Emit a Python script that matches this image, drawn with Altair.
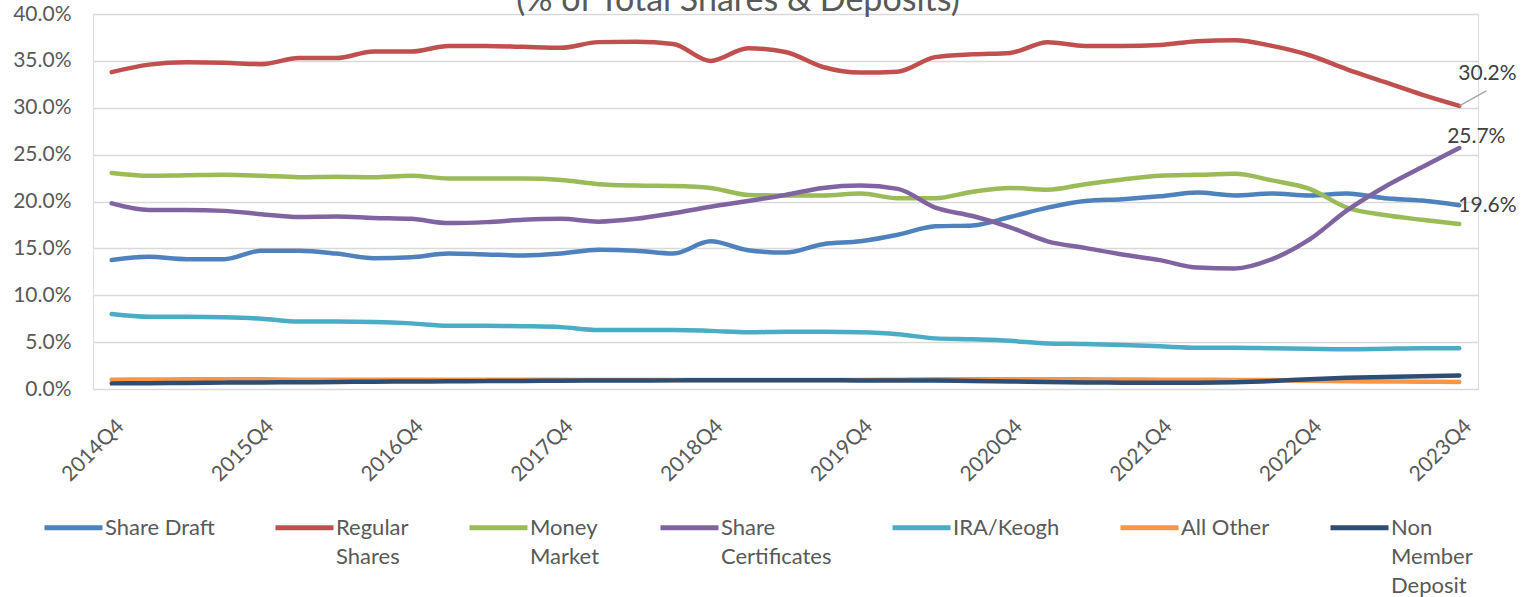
import altair as alt
import pandas as pd

quarters = ["2014Q4"] + [f"{y}Q{q}" for y in range(2015, 2024) for q in range(1, 5)]
tick_labels = ["2014Q4", "2015Q4", "2016Q4", "2017Q4", "2018Q4", "2019Q4",
               "2020Q4", "2021Q4", "2022Q4", "2023Q4"]
title_text = ["(% of Total Shares & Deposits)"]

series_names = ["Share Draft", "Regular Shares", "Money Market", "Share Certificates",
                "IRA/Keogh", "All Other", "Non Member Deposit"]
series_colors = ["#4F81BD", "#C0504D", "#9BBB59", "#8064A2", "#4BACC6", "#F79646", "#2C4D75"]

share_draft = [13.75, 14.1, 13.85, 13.85, 14.75, 14.75, 14.45, 13.95, 14.05, 14.45, 14.35, 14.25,
               14.45, 14.85, 14.75, 14.45, 15.75, 14.8, 14.55, 15.45, 15.75, 16.45, 17.35, 17.45,
               18.35, 19.35, 20.05, 20.25, 20.55, 20.95, 20.65, 20.85, 20.65, 20.85, 20.35, 20.1, 19.6]
regular_shares = [33.8, 34.6, 34.85, 34.8, 34.65, 35.3, 35.3, 36.0, 36.0, 36.6, 36.6, 36.5,
                  36.4, 37.0, 37.05, 36.8, 35.0, 36.35, 35.95, 34.35, 33.75, 33.85, 35.4, 35.7,
                  35.85, 37.0, 36.6, 36.6, 36.7, 37.1, 37.2, 36.6, 35.6, 34.1, 32.75, 31.4, 30.2]
money_market = [23.05, 22.75, 22.8, 22.85, 22.75, 22.6, 22.65, 22.6, 22.75, 22.45, 22.45, 22.45,
                22.3, 21.85, 21.7, 21.65, 21.45, 20.7, 20.65, 20.65, 20.85, 20.35, 20.35, 21.05,
                21.45, 21.25, 21.85, 22.35, 22.75, 22.85, 22.95, 22.25, 21.35, 19.35, 18.55, 18.05, 17.6]
share_certificates = [19.8, 19.1, 19.1, 19.0, 18.65, 18.35, 18.4, 18.25, 18.15, 17.7, 17.8, 18.05,
                      18.15, 17.85, 18.15, 18.75, 19.45, 20.05, 20.7, 21.45, 21.7, 21.35, 19.35, 18.45,
                      17.25, 15.75, 15.05, 14.35, 13.75, 12.95, 12.85, 13.85, 15.95, 19.05, 21.55, 23.65, 25.7]
ira_keogh = [8.0, 7.7, 7.7, 7.65, 7.5, 7.2, 7.2, 7.15, 7.0, 6.75, 6.75, 6.7,
             6.6, 6.3, 6.3, 6.3, 6.2, 6.05, 6.1, 6.1, 6.05, 5.85, 5.4, 5.3,
             5.15, 4.85, 4.8, 4.7, 4.55, 4.4, 4.4, 4.35, 4.3, 4.25, 4.3, 4.35, 4.35]
all_other = [1.0, 1.02, 1.03, 1.04, 1.03, 1.0, 1.0, 1.0, 1.0, 1.0, 1.0, 1.0,
             0.98, 0.97, 0.97, 0.97, 0.95, 0.95, 0.95, 0.95, 0.97, 1.0, 1.05, 1.05,
             1.05, 1.05, 1.03, 1.02, 1.0, 0.98, 0.97, 0.95, 0.88, 0.82, 0.8, 0.78, 0.75]
non_member = [0.6, 0.62, 0.65, 0.68, 0.7, 0.72, 0.75, 0.78, 0.8, 0.82, 0.84, 0.86,
              0.88, 0.9, 0.9, 0.92, 0.93, 0.93, 0.93, 0.93, 0.92, 0.92, 0.9, 0.85,
              0.8, 0.75, 0.7, 0.68, 0.68, 0.68, 0.72, 0.85, 1.05, 1.2, 1.28, 1.35, 1.45]

all_values = [share_draft, regular_shares, money_market, share_certificates,
              ira_keogh, all_other, non_member]

rows = []
for si, (name, vals) in enumerate(zip(series_names, all_values)):
    for q, v in zip(quarters, vals):
        rows.append({"quarter": q, "series": name, "value": v / 100.0, "order": si})
df = pd.DataFrame(rows)

FONT = "Lato"
GRAY = "#595959"

# wrapped legend labels, every label padded to three lines so that entries align
legend_expr = (
    "datum.label == 'Share Draft' ? ['Share Draft', '', ''] : "
    "datum.label == 'Regular Shares' ? ['Regular', 'Shares', ''] : "
    "datum.label == 'Money Market' ? ['Money', 'Market', ''] : "
    "datum.label == 'Share Certificates' ? ['Share', 'Certificates', ''] : "
    "datum.label == 'IRA/Keogh' ? ['IRA/Keogh', '', ''] : "
    "datum.label == 'All Other' ? ['All Other', '', ''] : "
    "['Non', 'Member', 'Deposit']"
)

x_enc = alt.X("quarter:O", sort=quarters,
              scale=alt.Scale(type="point", padding=0.5),
              axis=alt.Axis(values=tick_labels, title=None, labelAngle=-45, labelAlign="right",
                            labelBaseline="top", labelPadding=26, labelOffset=1,
                            labelFontSize=21, labelFont=FONT, labelColor=GRAY,
                            ticks=False, domain=False, grid=False))
y_enc = alt.Y("value:Q", scale=alt.Scale(domain=[0, 0.4], nice=False),
              axis=alt.Axis(values=[0, 0.05, 0.1, 0.15, 0.2, 0.25, 0.3, 0.35, 0.4],
                            format=".1%", title=None, labelFontSize=21, labelFont=FONT,
                            labelColor=GRAY, labelPadding=22, ticks=False, domain=False,
                            grid=True, gridColor="#d9d9d9", gridWidth=1.5))

lines = alt.Chart(df).mark_line(strokeWidth=4.5, strokeCap="round", strokeJoin="round",
                                interpolate="monotone").encode(
    x=x_enc,
    y=y_enc,
    color=alt.Color("series:N", sort=series_names,
                    scale=alt.Scale(domain=series_names, range=series_colors),
                    legend=alt.Legend(title=None, orient="none", legendX=-51, legendY=482,
                                      direction="horizontal", columns=7, columnPadding=50,
                                      symbolType="stroke", symbolSize=3364, symbolStrokeWidth=5,
                                      labelFontSize=22, labelFont=FONT, labelColor=GRAY,
                                      labelBaseline="middle", labelOffset=0, labelLimit=400,
                                      labelExpr=legend_expr, padding=0)),
    order=alt.Order("order:Q"),
)

last = df[df["quarter"] == "2023Q4"]
rs = last[last["series"] == "Regular Shares"]
sc = last[last["series"] == "Share Certificates"]
sd = last[last["series"] == "Share Draft"]

txt_kw = dict(fontSize=21, font=FONT, color="#404040", baseline="middle")

lbl_rs = alt.Chart(rs).mark_text(align="left", dx=-1, dy=-32, **txt_kw).encode(
    x="quarter:O", y="value:Q", text=alt.Text("value:Q", format=".1%"))
lead_rs = alt.Chart(rs).mark_rule(color="#a6a6a6", strokeWidth=1.5, x2Offset=27, y2Offset=-15).encode(
    x="quarter:O", x2="quarter:O", y="value:Q", y2="value:Q")
lbl_sc = alt.Chart(sc).mark_text(align="center", dx=17, dy=-11, **txt_kw).encode(
    x="quarter:O", y="value:Q", text=alt.Text("value:Q", format=".1%"))
lbl_sd = alt.Chart(sd).mark_text(align="left", dx=-1, dy=1, **txt_kw).encode(
    x="quarter:O", y="value:Q", text=alt.Text("value:Q", format=".1%"))

title_mark = alt.Chart(pd.DataFrame({"t": title_text})).mark_text(
    fontSize=34, font=FONT, color=GRAY, align="center", baseline="alphabetic").encode(
    x=alt.value(645), y=alt.value(-3), text="t:N")

chart = alt.layer(lines, lead_rs, lbl_rs, lbl_sc, lbl_sd, title_mark).properties(
    width=1385, height=375,
    padding={"left": 93, "top": 14, "right": 50, "bottom": 208},
    autosize=alt.AutoSizeParams(type="none"),
).configure_view(stroke=None).configure(
    background="white",
    style={"guide-label": {"lineHeight": 29}},
)

chart.save("out.html", embed_options={"renderer": "svg", "actions": False})
